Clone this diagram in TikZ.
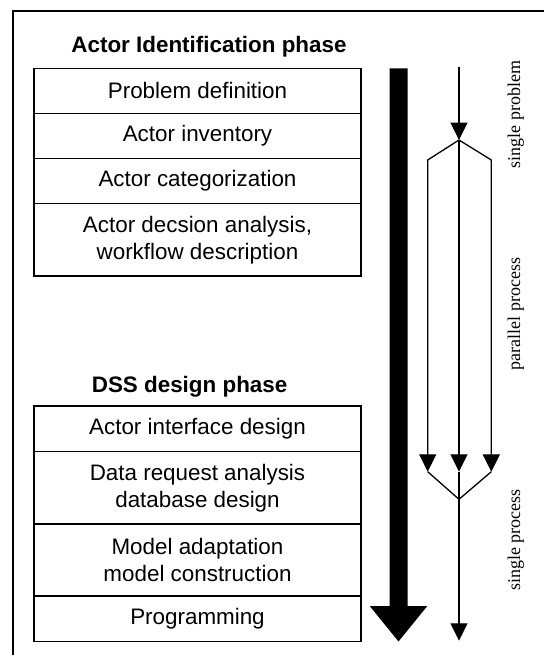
\documentclass[tikz,border=0pt]{standalone}
\usepackage{fontspec}
\setmainfont{Liberation Sans}
\newfontfamily\lblserif{Liberation Serif}
\usetikzlibrary{arrows.meta}
\begin{document}
\begin{tikzpicture}[x=1pt,y=-1pt,
  rowbox/.style={draw, line width=1.3pt, minimum width=327pt, inner sep=0pt,
    align=center, font=\fontsize{22.4}{26.8}\selectfont},
  phasetitle/.style={anchor=base, inner sep=0pt, font=\fontsize{22.4}{26}\selectfont\bfseries},
  flowlbl/.style={anchor=base, rotate=90, inner sep=0pt, font=\lblserif\fontsize{18}{20}\selectfont},
  thinarrow/.style={line width=1.3pt, -{Triangle[width=17pt,length=17.4pt]}},
  thinline/.style={line width=1.3pt}
]
\useasboundingbox (0,0) rectangle (543,655);
% frame
\draw[line width=1.7pt] (12.7,660) -- (12.7,11) -- (548,11);
% titles
\node[phasetitle] (t1) at (209,53) {Actor Identification phase};
\node[phasetitle] (t2) at (189.6,392.7) {DSS design phase};
% phase 1 rows
\node[rowbox, minimum height=45pt] (r1) at (197.5,90.8) {Problem definition};
\node[rowbox, minimum height=45pt] (r2) at (197.5,135.8) {Actor inventory};
\node[rowbox, minimum height=45.4pt] (r3) at (197.5,181) {Actor categorization};
\node[rowbox, minimum height=72.3pt] (r4) at (197.5,239.85) {Actor decsion analysis,\\workflow description};
% phase 2 rows
\node[rowbox, minimum height=45.7pt] (q1) at (197.5,428.85) {Actor interface design};
\node[rowbox, minimum height=72.3pt] (q2) at (197.5,487.85) {Data request analysis\\database design};
\node[rowbox, minimum height=72pt] (q3) at (197.5,560) {Model adaptation\\model construction};
\node[rowbox, minimum height=45.7pt] (q4) at (197.5,618.85) {Programming};
% thick arrow
\fill (389.5,68.3) -- (407.5,68.3) -- (407.5,606) -- (427.3,606) -- (398.5,641.5)
  -- (369.7,606) -- (389.5,606) -- cycle;
% thin flow
\coordinate (s0) at (459,67.3);
\coordinate (s1) at (459,140);
\coordinate (l1) at (427.7,160);
\coordinate (r1c) at (491.3,160);
\coordinate (l2) at (427.7,471.7);
\coordinate (m2) at (459,471.7);
\coordinate (r2c) at (491.3,471.7);
\coordinate (mg) at (459,499.3);
\coordinate (s3) at (459,640.7);
\draw[thinarrow] (s0) -- (s1);
\draw[thinarrow] (s1) -- (l1) -- (l2);
\draw[thinarrow] (s1) -- (r1c) -- (r2c);
\draw[thinarrow] (s1) -- (m2);
\draw[thinline] (l2) -- (mg) -- (r2c);
\draw[thinarrow] (m2) -- (s3);
% labels
\node[flowlbl] (lb1) at (520,114.5) {single problem};
\node[flowlbl] (lb2) at (520,314) {parallel process};
\node[flowlbl] (lb3) at (520,540) {single process};
\end{tikzpicture}
\end{document}
